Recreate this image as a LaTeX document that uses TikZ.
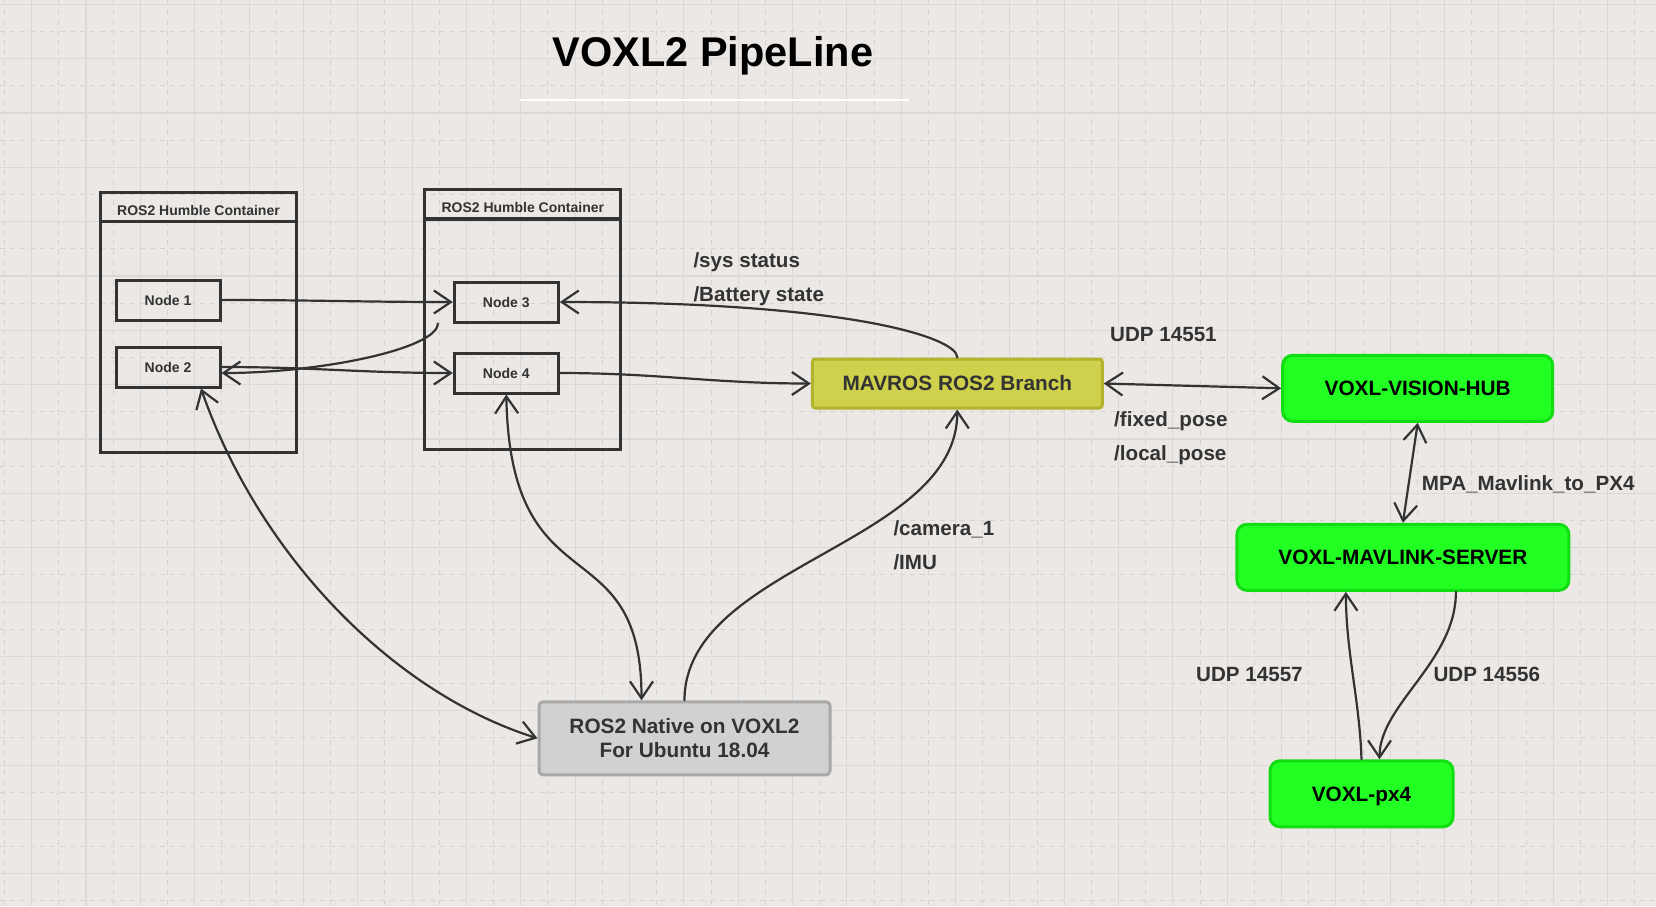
\documentclass[tikz,border=0pt]{standalone}
\usepackage{fontspec}
\setmainfont{Liberation Sans}
\usetikzlibrary{arrows.meta,positioning}

\definecolor{paper}{HTML}{EBE8E5}
\definecolor{gridmaj}{HTML}{DBD9D7}
\definecolor{gridmin}{HTML}{D6D4D2}
\definecolor{ink}{HTML}{333333}
\definecolor{mavfill}{HTML}{CFD04B}
\definecolor{mavline}{HTML}{B3B32C}
\definecolor{voxlfill}{HTML}{22FF22}
\definecolor{voxlline}{HTML}{12DC12}
\definecolor{nativefill}{HTML}{D1D1D1}
\definecolor{nativeline}{HTML}{A9A9A9}

\begin{document}
\begin{tikzpicture}[
  x=1pt,y=1pt,
  node distance=24pt,
  openv/.tip={Straight Barb[length=17pt,width=23pt]},
  gridmajor/.style={gridmaj,line width=1.1pt},
  gridminor/.style={gridmin,line width=0.9pt,dash pattern=on 5pt off 5pt},
  headline/.style={font=\fontsize{41.5}{48}\selectfont\bfseries,anchor=base,inner sep=0pt},
  container/.style={draw=ink,line width=3.2pt,minimum width=196pt,minimum height=260pt,inner sep=0pt},
  header/.style={font=\fontsize{14}{16}\selectfont\bfseries,text=ink,anchor=base,inner sep=0pt},
  rosnode/.style={draw=ink,line width=3pt,minimum width=104pt,minimum height=40pt,inner sep=0pt,
    font=\fontsize{14}{16}\selectfont\bfseries,text=ink},
  mavros/.style={draw=mavline,fill=mavfill,line width=3pt,rounded corners=3pt,minimum width=290pt,
    minimum height=49pt,inner sep=0pt,font=\fontsize{20.8}{24}\selectfont\bfseries,text=ink},
  native/.style={draw=nativeline,fill=nativefill,line width=3pt,rounded corners=4pt,minimum width=291pt,
    minimum height=73pt,inner sep=0pt,align=center,font=\fontsize{20.8}{24}\selectfont\bfseries,text=ink},
  voxl/.style={draw=voxlline,fill=voxlfill,line width=3pt,rounded corners=10pt,minimum height=66pt,
    inner sep=0pt,text depth=0pt,font=\fontsize{20.8}{24}\selectfont\bfseries},
  topic/.style={font=\fontsize{20.6}{24}\selectfont\bfseries,text=ink,anchor=base west,inner sep=0pt},
  link/.style={draw=ink,line width=2.2pt,line cap=round,-openv},
  dlink/.style={link,openv-openv}
]
  % paper and grid
  \useasboundingbox (0,0) rectangle (1656,-906);
  \fill[paper] (0,0) rectangle (1656,-906);
  \foreach \i in {-1,...,29} \draw[gridminor] ({58.87+54.34*\i},0) -- ++(0,-906);
  \foreach \j in {0,...,16} \draw[gridminor] (0,{-31.47-54.34*\j}) -- ++(1656,0);
  \foreach \i in {0,...,30} \draw[gridmajor] ({31.7+54.34*\i},0) -- ++(0,-906);
  \foreach \j in {0,...,16} \draw[gridmajor] (0,{-4.3-54.34*\j}) -- ++(1656,0);

  % title
  \node[headline] (title) at (713,-66.7) {VOXL2 PipeLine};
  \draw[white,line width=2pt] (520,-100) -- (909,-100);

  % containers
  \node[container] (c1) at (198.5,-322.2) {};
  \node[header] (c1head) at ([yshift=-25pt]c1.north) {ROS2 Humble Container};
  \draw[ink,line width=3.2pt] ([yshift=-31pt]c1.north west) -- ([yshift=-31pt]c1.north east);
  \node[container] (c2) at (522.8,-319.5) {};
  \node[header] (c2head) at ([yshift=-25pt]c2.north) {ROS2 Humble Container};
  \draw[ink,line width=3.2pt] ([yshift=-31pt]c2.north west) -- ([yshift=-31pt]c2.north east);

  \node[rosnode] (n1) at (168,-300) {Node 1};
  \node[rosnode,below=of n1] (n2) {Node 2};
  \node[rosnode] (n3) at (506.3,-302) {Node 3};
  \node[rosnode,below=28pt of n3] (n4) {Node 4};

  % main blocks
  \node[mavros] (mavros) at (957.3,-383.5) {MAVROS ROS2 Branch};
  \node[native] (native) at (684.5,-738.3) {ROS2 Native on VOXL2\\For Ubuntu 18.04};
  \node[voxl,minimum width=270pt] (hub) at (1417.7,-388.3) {VOXL-VISION-HUB};
  \node[voxl,minimum width=332pt] (server) at (1402.9,-557.3) {VOXL-MAVLINK-SERVER};
  \node[voxl,minimum width=183pt] (px4) at (1361.5,-793.8) {VOXL-px4};

  % topics and ports
  \node[topic] (sys) at (693.3,-267.3) {/sys status};
  \node[topic] (battery) at (693.3,-301) {/Battery state};
  \node[topic] (camera) at (893.3,-535.7) {/camera\_1};
  \node[topic] (imu) at (893.3,-569) {/IMU};
  \node[topic] (udp51) at (1110,-341.7) {UDP 14551};
  \node[topic] (fixed) at (1114,-426) {/fixed\_pose};
  \node[topic] (local) at (1114,-460) {/local\_pose};
  \node[topic] (mpa) at (1421.7,-490) {MPA\_Mavlink\_to\_PX4};
  \node[topic] (udp57) at (1196,-681.7) {UDP 14557};
  \node[topic] (udp56) at (1433.3,-681.7) {UDP 14556};

  % links
  \draw[link] (n1.east) to[out=0,in=180] (n3.west);
  \draw[link] ([xshift=-15pt]n3.south west) .. controls +(0,-25) and +(100,0) .. ([yshift=-6pt]n2.east);
  \draw[link] (n2.east) to[out=0,in=180] (n4.west);
  \draw[link] (mavros.north) .. controls +(0,20) and +(290,0) .. (n3.east);
  \draw[link] (n4.east) to[out=0,in=180] (mavros.west);
  \draw[dlink] (mavros.east) -- (hub.west);
  \draw[dlink] ([xshift=33pt]n2.south) .. controls +(59,-169) and +(-143,45) .. (native.west);
  \draw[dlink] (n4.south) .. controls +(4,-217) and +(0,177) .. ([xshift=-43pt]native.north);
  \draw[link] (native.north) .. controls +(0,135) and +(0,-135) .. (mavros.south);
  \draw[dlink] (hub.south) -- (server.north);
  \draw[link] ([xshift=53pt]server.south) .. controls +(0,-70) and +(0,55) .. ([xshift=18pt]px4.north);
  \draw[link] (px4.north) .. controls +(-2,60) and +(0,-60) .. ([xshift=-57pt]server.south);
\end{tikzpicture}
\end{document}
